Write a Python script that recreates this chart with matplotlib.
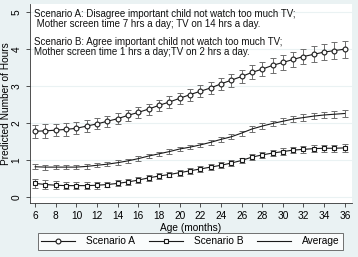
import matplotlib
matplotlib.use("Agg")
import matplotlib.pyplot as plt
from matplotlib.lines import Line2D

plt.rcParams['font.family'] = ['Liberation Sans', 'DejaVu Sans']

months = list(range(6, 37))
scenario_a = [1.78, 1.79, 1.81, 1.83, 1.86, 1.92, 1.98, 2.05, 2.12, 2.21, 2.29,
              2.38, 2.48, 2.57, 2.67, 2.77, 2.86, 2.95, 3.06, 3.16, 3.26,
              3.37, 3.46, 3.56, 3.64, 3.72, 3.80, 3.86, 3.92, 3.96, 4.00]
scenario_a_err = [0.18, 0.18, 0.17, 0.17, 0.16, 0.16, 0.15, 0.15, 0.15, 0.15, 0.15,
                  0.15, 0.15, 0.15, 0.15, 0.16, 0.16, 0.17, 0.17, 0.18, 0.18,
                  0.19, 0.19, 0.20, 0.20, 0.21, 0.21, 0.22, 0.22, 0.23, 0.23]
scenario_b = [0.37, 0.34, 0.32, 0.31, 0.31, 0.31, 0.32, 0.34, 0.37, 0.41, 0.46,
              0.52, 0.57, 0.61, 0.66, 0.71, 0.76, 0.81, 0.86, 0.92, 0.99,
              1.08, 1.14, 1.19, 1.23, 1.27, 1.29, 1.31, 1.32, 1.32, 1.33]
scenario_b_err = [0.13, 0.12, 0.11, 0.10, 0.10, 0.09, 0.09, 0.08, 0.08, 0.08, 0.08,
                  0.08, 0.08, 0.08, 0.08, 0.08, 0.08, 0.08, 0.08, 0.08, 0.08,
                  0.08, 0.08, 0.09, 0.09, 0.09, 0.09, 0.10, 0.10, 0.10, 0.10]
average = [0.82, 0.81, 0.81, 0.81, 0.81, 0.83, 0.86, 0.89, 0.93, 0.98, 1.04,
           1.11, 1.17, 1.23, 1.30, 1.35, 1.41, 1.48, 1.56, 1.63, 1.73,
           1.84, 1.92, 1.99, 2.05, 2.11, 2.15, 2.19, 2.22, 2.24, 2.26]
average_err = [0.07, 0.07, 0.06, 0.06, 0.06, 0.06, 0.06, 0.06, 0.06, 0.06, 0.06,
               0.06, 0.06, 0.06, 0.06, 0.06, 0.06, 0.06, 0.06, 0.07, 0.07,
               0.07, 0.07, 0.08, 0.08, 0.08, 0.09, 0.09, 0.09, 0.10, 0.10]
xticks = list(range(6, 37, 2))
yticks = [0, 1, 2, 3, 4, 5]
note_lines = ["Scenario A: Disagree important child not watch too much TV;",
              " Mother screen time 7 hrs a day; TV on 14 hrs a day.",
              "Scenario B: Agree important child not watch too much TV;",
              "Mother screen time 1 hrs a day;TV on 2 hrs a day."]

BG = '#EAF2F3'
LINE = '#1a1a1a'
ERR = '#6e6e6e'

fig = plt.figure(figsize=(3.58, 2.57), dpi=100, facecolor=BG)
ax = fig.add_axes([30/358, 1-203/257, 322/358, 199/257])
ax.set_facecolor('white')

for y, e, mk in [(scenario_a, scenario_a_err, 'o'), (scenario_b, scenario_b_err, 's'),
                 (average, average_err, None)]:
    ax.errorbar(months, y, yerr=e, fmt='none', ecolor=ERR, elinewidth=0.7,
                capsize=1.9, capthick=0.7, zorder=2)
    ax.plot(months, y, color=LINE, lw=0.8, marker=mk, markersize=3.5,
            markerfacecolor='white', markeredgecolor=LINE, markeredgewidth=0.8, zorder=3)

ax.set_xlim(5.5, 36.7)
ax.set_ylim(-0.16, 5.22)
ax.set_xticks(xticks)
ax.set_yticks(yticks)
ax.tick_params(axis='both', labelsize=7.3, length=3, width=0.6, color='#333333', pad=3)
for lab in ax.get_yticklabels():
    lab.set_rotation(90)
    lab.set_va('center')
ax.grid(axis='y', color=BG, lw=0.8, zorder=0)
for s in ['top', 'right']:
    ax.spines[s].set_visible(False)
for s in ['left', 'bottom']:
    ax.spines[s].set_linewidth(0.6)
    ax.spines[s].set_color('#333333')

ax.set_xlabel('Age (months)', fontsize=7.3, labelpad=1)
ax.set_ylabel('Predicted Number of Hours', fontsize=7.3)
ax.yaxis.set_label_coords(-18.5/322, 0.5)

ys = [14.3, 24, 41.7, 51.7]
for txt, yy in zip(note_lines, ys):
    fig.text(34/358, 1-yy/257, txt, fontsize=7, va='center', ha='left', color='#111111')

handles = [Line2D([], [], color=LINE, lw=0.8, marker='o', markersize=3.5,
                  markerfacecolor='white', markeredgewidth=0.8),
           Line2D([], [], color=LINE, lw=0.8, marker='s', markersize=3.5,
                  markerfacecolor='white', markeredgewidth=0.8),
           Line2D([], [], color=LINE, lw=0.8)]
leg = fig.legend(handles, ['Scenario A', 'Scenario B', 'Average'], ncol=3,
                 loc='center', bbox_to_anchor=(190.5/358, 1-241.5/257),
                 fontsize=7.3, frameon=True, fancybox=False, handlelength=3.3,
                 handletextpad=1.1, columnspacing=1.4, borderpad=0.35,
                 markerscale=1.0)
leg.get_frame().set_edgecolor('#333333')
leg.get_frame().set_linewidth(0.6)
leg.get_frame().set_facecolor('white')

fig.savefig('out.png', dpi=100, facecolor=BG)
